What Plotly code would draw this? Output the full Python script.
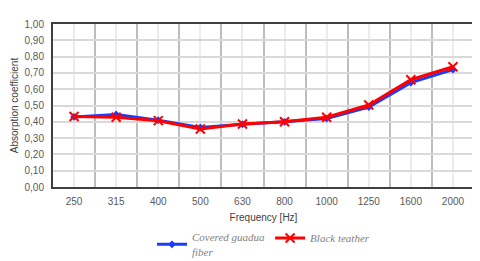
import plotly.graph_objects as go

freqs = ["250", "315", "400", "500", "630", "800", "1000", "1250", "1600", "2000"]
guadua = [0.43, 0.445, 0.41, 0.365, 0.385, 0.40, 0.42, 0.49, 0.64, 0.72]
teather = [0.432, 0.428, 0.407, 0.356, 0.386, 0.40, 0.428, 0.503, 0.658, 0.738]
yticks = [i / 10 for i in range(11)]
yticktext = [f"{v:.2f}".replace(".", ",") for v in yticks]

xs = list(range(len(freqs)))

fig = go.Figure()
fig.add_trace(go.Scatter(
    x=xs, y=guadua, mode="lines+markers", name="Covered guadua<br>fiber",
    line=dict(color="#1a3cff", width=3),
    marker=dict(symbol="diamond", size=6, color="#1a3cff"),
))
fig.add_trace(go.Scatter(
    x=xs, y=teather, mode="lines+markers", name="Black teather",
    line=dict(color="#ff0000", width=3),
    marker=dict(symbol="x-thin", size=9, color="#ff0000", line=dict(color="#ff0000", width=2)),
))

fig.update_layout(
    width=472, height=253,
    margin=dict(l=45, r=6, t=16, b=74),
    paper_bgcolor="white", plot_bgcolor="white",
    font=dict(family="Liberation Sans, sans-serif", size=10, color="#595959"),
    showlegend=True,
    legend=dict(
        orientation="h", x=0.5, xanchor="center", xref="paper",
        y=0.148, yanchor="top", yref="container",
        font=dict(family="Liberation Serif, serif", size=11, color="#7f7f7f", style="italic"),
        itemwidth=30, tracegroupgap=0,
    ),
    xaxis=dict(
        range=[-0.5, len(freqs) - 0.5],
        tickvals=xs, ticktext=freqs,
        showgrid=True, gridcolor="#ececec", gridwidth=1.5,
        minor=dict(tick0=0.5, dtick=1, showgrid=True, gridcolor="#bdbdbd", gridwidth=1.5),
        showline=True, linecolor="#404040", linewidth=2, mirror=True,
        ticks="", zeroline=False, automargin=False,
        ticklabelstandoff=4,
        title=dict(text="Frequency [Hz]", font=dict(size=10, color="#404040"), standoff=8),
        tickfont=dict(size=10, color="#595959"),
    ),
    yaxis=dict(
        range=[0, 1.0],
        tickvals=yticks, ticktext=yticktext,
        showgrid=True, gridcolor="#d9d9d9", gridwidth=1.5,
        showline=True, linecolor="#404040", linewidth=2, mirror=True,
        ticks="", zeroline=False, automargin=False,
        ticklabelstandoff=5,
        title=dict(text="Absorption coefficient", font=dict(size=10, color="#404040"), standoff=4),
        tickfont=dict(size=10, color="#595959"),
    ),
)

fig.write_html("out.html")
